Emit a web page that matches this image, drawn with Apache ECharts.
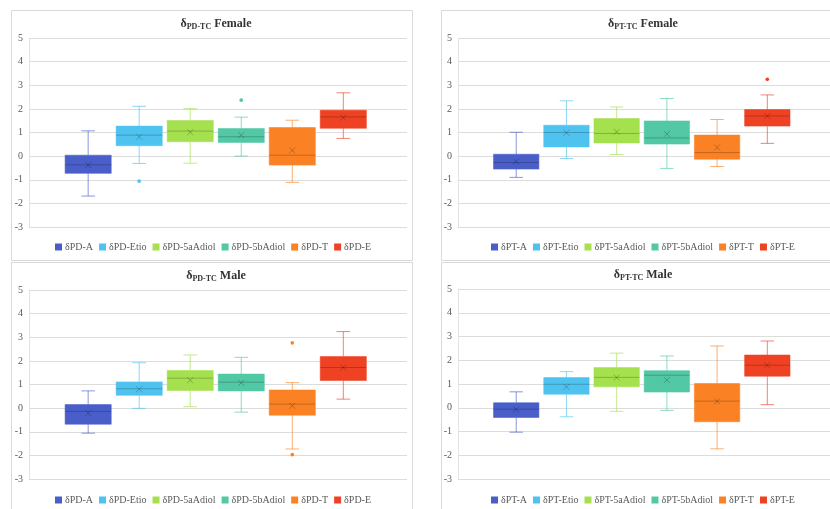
<!DOCTYPE html>
<html>
<head>
<meta charset="utf-8">
<script src="https://cdn.jsdelivr.net/npm/echarts@6/dist/echarts.min.js"></script>
<style>
html, body { margin: 0; padding: 0; background: #fff; }
#main { width: 830px; height: 509px; }
</style>
</head>
<body>
<div id="main"></div>
<script>
// series (categories) shown in every panel
var names = ['A', 'Etio', '5aAdiol', '5bAdiol', 'T', 'E'];
var colors = ['#4a5ec9', '#4fc3f0', '#a5e04f', '#52c8a5', '#fb8224', '#ef4123'];

// each row: [min, Q1, median, Q3, max]
var pdFemaleBox = [
    [-1.69, -0.73, -0.37, 0.04, 1.07],
    [-0.31, 0.44, 0.89, 1.27, 2.11],
    [-0.30, 0.61, 1.06, 1.51, 2.01],
    [0.00, 0.58, 0.82, 1.17, 1.65],
    [-1.11, -0.38, 0.04, 1.21, 1.52],
    [0.75, 1.18, 1.66, 1.94, 2.68]
];
var pdFemaleMean = [-0.38, 0.82, 1.01, 0.89, 0.25, 1.63];
var pdFemaleOut = [[1, -1.06], [3, 2.37]];

var ptFemaleBox = [
    [-0.90, -0.55, -0.27, 0.08, 1.01],
    [-0.10, 0.39, 1.00, 1.31, 2.34],
    [0.07, 0.56, 0.96, 1.59, 2.08],
    [-0.52, 0.51, 0.77, 1.49, 2.44],
    [-0.44, -0.13, 0.15, 0.89, 1.55],
    [0.54, 1.27, 1.70, 1.97, 2.59]
];
var ptFemaleMean = [-0.23, 0.99, 1.03, 0.94, 0.37, 1.69];
var ptFemaleOut = [[5, 3.25]];

var pdMaleBox = [
    [-1.06, -0.68, -0.14, 0.15, 0.73],
    [-0.01, 0.54, 0.82, 1.11, 1.92],
    [0.06, 0.75, 1.27, 1.59, 2.25],
    [-0.17, 0.73, 1.10, 1.44, 2.15],
    [-1.73, -0.30, 0.17, 0.77, 1.08],
    [0.38, 1.17, 1.72, 2.18, 3.24]
];
var pdMaleMean = [-0.21, 0.80, 1.18, 1.07, 0.10, 1.72];
var pdMaleOut = [[4, 2.76], [4, -1.97]];

var ptMaleBox = [
    [-1.03, -0.41, -0.06, 0.21, 0.67],
    [-0.38, 0.57, 0.99, 1.27, 1.52],
    [-0.15, 0.88, 1.28, 1.69, 2.30],
    [-0.11, 0.66, 1.37, 1.56, 2.18],
    [-1.73, -0.59, 0.28, 1.02, 2.60],
    [0.13, 1.33, 1.79, 2.22, 2.81]
];
var ptMaleMean = [-0.07, 0.88, 1.27, 1.17, 0.27, 1.79];
var ptMaleOut = [];

var yMin = -3, yMax = 5, yStep = 1;

var panels = [
    { tag: 'PD', sex: 'Female', box: pdFemaleBox, mean: pdFemaleMean, out: pdFemaleOut,
      frame: [11, 10, 401, 250], grid: [29, 38, 378, 189], title: [211, 12], legend: [55, 242] },
    { tag: 'PT', sex: 'Female', box: ptFemaleBox, mean: ptFemaleMean, out: ptFemaleOut,
      frame: [441, 10, 400, 250], grid: [458, 38, 378, 189], title: [638, 12], legend: [491, 242] },
    { tag: 'PD', sex: 'Male', box: pdMaleBox, mean: pdMaleMean, out: pdMaleOut,
      frame: [11, 262, 401, 260], grid: [29, 290, 378, 189], title: [211, 264], legend: [55, 495] },
    { tag: 'PT', sex: 'Male', box: ptMaleBox, mean: ptMaleMean, out: ptMaleOut,
      frame: [441, 262, 400, 260], grid: [458, 289, 378, 190], title: [638, 263], legend: [491, 495] }
];

var serif = 'Liberation Serif, Times New Roman, serif';

function fade(hex, a) {
    var n = parseInt(hex.slice(1), 16);
    return 'rgba(' + (n >> 16) + ',' + ((n >> 8) & 255) + ',' + (n & 255) + ',' + a + ')';
}

// box + whiskers + median + mean marker; extra data items are outliers
function makeBox(k, color) {
    return function (params, api) {
        var bw = api.size([1, 0])[0];
        var cx = api.coord([0, 0])[0] + ((k - 2.5) * 0.135 - 0.006) * bw;
        if (params.dataIndex > 0) {
            var p = api.coord([0, api.value(1)]);
            return { type: 'circle', shape: { cx: cx, cy: p[1], r: 1.8 }, style: { fill: color } };
        }
        var y = [];
        for (var i = 1; i <= 6; i++) y.push(api.coord([0, api.value(i)])[1]);
        var half = bw * 0.061, cap = bw * 0.018, m = 3;
        var wStyle = { stroke: fade(color, 0.65), lineWidth: 1 };
        var dark = 'rgba(0,0,0,0.22)';
        return {
            type: 'group',
            children: [
                { type: 'line', shape: { x1: cx, y1: y[4], x2: cx, y2: y[3] }, style: wStyle },
                { type: 'line', shape: { x1: cx, y1: y[1], x2: cx, y2: y[0] }, style: wStyle },
                { type: 'line', shape: { x1: cx - cap, y1: y[4], x2: cx + cap, y2: y[4] }, style: wStyle },
                { type: 'line', shape: { x1: cx - cap, y1: y[0], x2: cx + cap, y2: y[0] }, style: wStyle },
                { type: 'rect', shape: { x: cx - half, y: y[3], width: half * 2, height: y[1] - y[3] },
                  style: { fill: color, stroke: fade(color, 0.55), lineWidth: 1 } },
                { type: 'line', shape: { x1: cx - half, y1: y[2], x2: cx + half, y2: y[2] },
                  style: { stroke: dark, lineWidth: 1 } },
                { type: 'line', shape: { x1: cx - m, y1: y[5] - m, x2: cx + m, y2: y[5] + m },
                  style: { stroke: dark, lineWidth: 1 } },
                { type: 'line', shape: { x1: cx - m, y1: y[5] + m, x2: cx + m, y2: y[5] - m },
                  style: { stroke: dark, lineWidth: 1 } }
            ]
        };
    };
}

var grids = [], xAxes = [], yAxes = [], titles = [], legends = [], series = [], frames = [];

panels.forEach(function (pn, p) {
    frames.push({
        type: 'rect', silent: true,
        shape: { x: pn.frame[0] + 0.5, y: pn.frame[1] + 0.5, width: pn.frame[2], height: pn.frame[3] },
        style: { fill: '#fff', stroke: '#d9d9d9', lineWidth: 1 }
    });
    grids.push({ left: pn.grid[0], top: pn.grid[1], width: pn.grid[2], height: pn.grid[3] });
    xAxes.push({
        type: 'category', gridIndex: p, data: [''],
        axisLine: { show: false }, axisTick: { show: false }, axisLabel: { show: false }
    });
    yAxes.push({
        type: 'value', gridIndex: p, min: yMin, max: yMax, interval: yStep,
        axisLine: { show: true, lineStyle: { color: '#e3e3e3' } },
        axisTick: { show: false },
        axisLabel: { fontFamily: serif, fontSize: 10, color: '#595959', margin: 6 },
        splitLine: { lineStyle: { color: '#dcdcdc' } }
    });
    titles.push({
        left: pn.title[0], top: pn.title[1], textAlign: 'center',
        text: '{d|δ}{s|' + pn.tag + '-TC}{d| ' + pn.sex + '}',
        textStyle: {
            rich: {
                d: { fontFamily: serif, fontWeight: 'bold', fontSize: 12, color: '#333', lineHeight: 14 },
                s: { fontFamily: serif, fontWeight: 'bold', fontSize: 8, color: '#333', lineHeight: 8, verticalAlign: 'bottom' }
            }
        }
    });
    var legendNames = [];
    names.forEach(function (nm, k) {
        var sname = 'δ' + pn.tag + '-' + nm;
        legendNames.push(sname);
        var data = [[0].concat(pn.box[k], [pn.mean[k]])];
        pn.out.forEach(function (o) { if (o[0] === k) data.push([0, o[1]]); });
        series.push({
            type: 'custom', name: sname, xAxisIndex: p, yAxisIndex: p,
            dimensions: ['x', 'min', 'q1', 'med', 'q3', 'max', 'mean'],
            encode: { x: 0, y: [1, 2, 3, 4, 5] },
            itemStyle: { color: colors[k] },
            renderItem: makeBox(k, colors[k]),
            data: data
        });
    });
    legends.push({
        left: pn.legend[0], top: pn.legend[1], data: legendNames,
        icon: 'rect', itemWidth: 7, itemHeight: 7, itemGap: 6, padding: 0,
        selectedMode: false,
        textStyle: { fontFamily: serif, fontSize: 10, color: '#595959', padding: [0, 0, 0, -2] }
    });
});

var myChart = echarts.init(document.getElementById('main'));
myChart.setOption({
    backgroundColor: '#fff',
    animation: false,
    graphic: frames,
    title: titles,
    legend: legends,
    grid: grids,
    xAxis: xAxes,
    yAxis: yAxes,
    series: series
});
</script>
</body>
</html>
